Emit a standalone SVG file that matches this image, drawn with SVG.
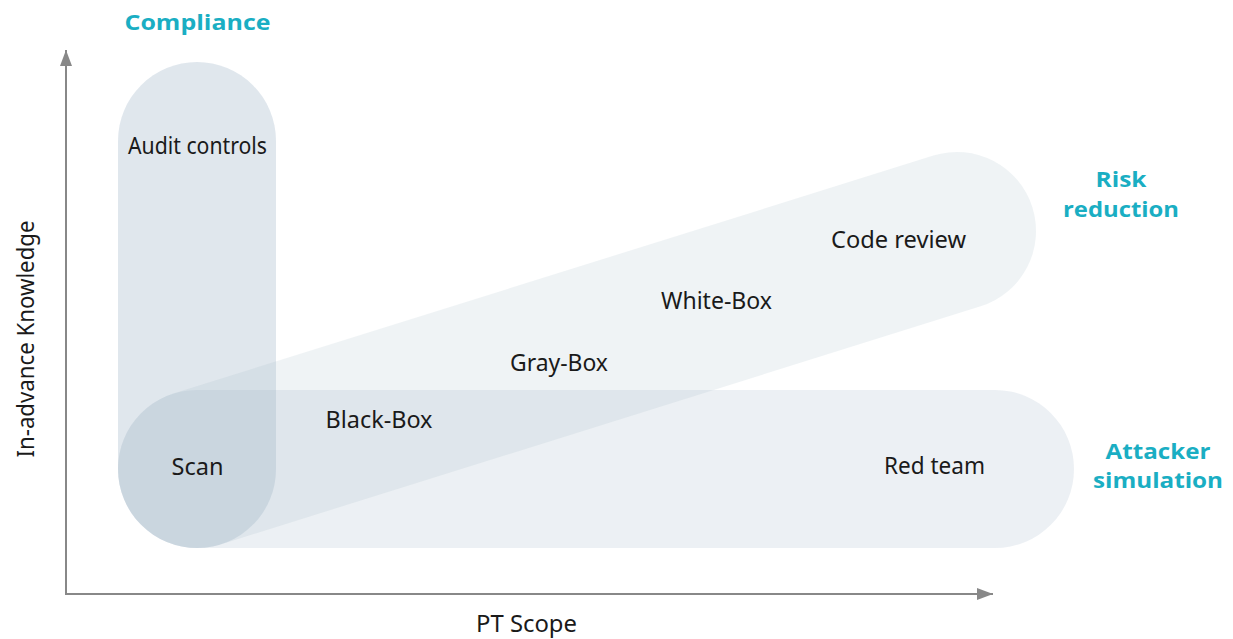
<svg xmlns="http://www.w3.org/2000/svg" width="1233" height="639" viewBox="0 0 1233 639">
<style>
.band{fill:#9fb5c6}
.lbl{font-family:"Noto Sans","Liberation Sans",sans-serif;font-size:23px;fill:#1a1a1a;text-anchor:middle}
.cat{font-family:"Open Sans","Liberation Sans",sans-serif;font-weight:700;font-size:22px;fill:#1aaec3;text-anchor:middle}
.axis{stroke:#888;stroke-width:2;fill:none}
</style>
<defs>
<marker id="ah" viewBox="0 0 16 12" refX="16" refY="6" markerWidth="16" markerHeight="12" markerUnits="userSpaceOnUse" orient="auto">
<path d="M0,0 L16,6 L0,12 Z" fill="#888"/>
</marker>
</defs>
<g id="axes">
<path class="axis" d="M66,595 L66,50" marker-end="url(#ah)"/>
<path class="axis" d="M66,594 L993,594" marker-end="url(#ah)"/>
</g>
<g id="compliance-band">
<rect class="band" x="118" y="62" width="158" height="486" rx="79" ry="79" opacity="0.32"/>
</g>
<g id="attacker-band">
<rect class="band" x="118" y="390" width="956" height="158" rx="79" ry="79" opacity="0.2"/>
</g>
<g id="risk-band">
<rect class="band" x="118" y="390" width="954.4" height="158" rx="79" ry="79" opacity="0.17" transform="rotate(-17.39 197 469)"/>
</g>
<g id="labels">
<text class="lbl" x="197.5" y="154" textLength="139" lengthAdjust="spacingAndGlyphs">Audit controls</text>
<text class="lbl" x="197.5" y="475" textLength="52" lengthAdjust="spacingAndGlyphs">Scan</text>
<text class="lbl" x="379" y="428" textLength="107" lengthAdjust="spacingAndGlyphs">Black-Box</text>
<text class="lbl" x="559" y="371" textLength="98" lengthAdjust="spacingAndGlyphs">Gray-Box</text>
<text class="lbl" x="716.5" y="309" textLength="111" lengthAdjust="spacingAndGlyphs">White-Box</text>
<text class="lbl" x="898.5" y="248" textLength="135" lengthAdjust="spacingAndGlyphs">Code review</text>
<text class="lbl" x="934.5" y="474" textLength="101" lengthAdjust="spacingAndGlyphs">Red team</text>
<text class="lbl" x="526.5" y="632" textLength="101" lengthAdjust="spacingAndGlyphs">PT Scope</text>
<text class="lbl" transform="translate(34 339) rotate(-90)" textLength="237" lengthAdjust="spacingAndGlyphs">In-advance Knowledge</text>
</g>
<g id="categories">
<text class="cat" x="197.5" y="30" textLength="146" lengthAdjust="spacingAndGlyphs">Compliance</text>
<text class="cat" x="1121" y="187" textLength="51" lengthAdjust="spacingAndGlyphs">Risk</text>
<text class="cat" x="1121" y="217" textLength="116" lengthAdjust="spacingAndGlyphs">reduction</text>
<text class="cat" x="1158" y="459" textLength="105" lengthAdjust="spacingAndGlyphs">Attacker</text>
<text class="cat" x="1158" y="488" textLength="130" lengthAdjust="spacingAndGlyphs">simulation</text>
</g>
</svg>
